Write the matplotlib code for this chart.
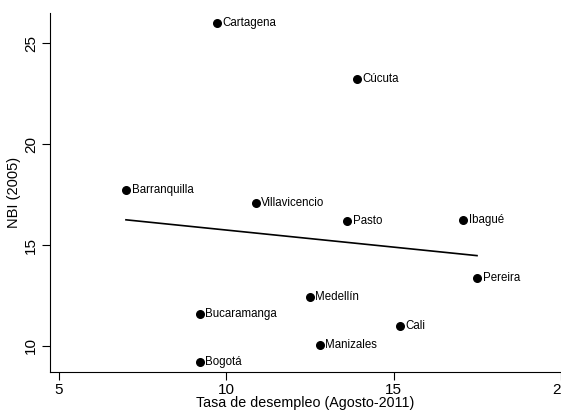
import matplotlib
matplotlib.use("Agg")
import matplotlib.pyplot as plt
import numpy as np

cities = ["Cartagena", "Cúcuta", "Barranquilla", "Villavicencio", "Pasto", "Ibagué",
          "Pereira", "Medellín", "Cali", "Manizales", "Bucaramanga", "Bogotá"]
desempleo = [9.71, 13.89, 7.00, 10.88, 13.61, 17.07, 17.49, 12.49, 15.18, 12.79, 9.21, 9.21]
nbi = [26.00, 23.22, 17.72, 17.09, 16.20, 16.24, 13.38, 12.41, 11.00, 10.05, 11.57, 9.22]
xticks = [5, 10, 15, 20]
yticks = [10, 15, 20, 25]

plt.rcParams['font.family'] = ['Liberation Sans', 'DejaVu Sans']

fig = plt.figure(figsize=(5.61, 4.13), dpi=100)
ax = fig.add_axes([50/561, 41/413, 1 - 50/561, (372-13)/413])

x = np.array(desempleo)
y = np.array(nbi)
ax.scatter(x, y, s=30, color='black', zorder=3)
for c, xi, yi in zip(cities, x, y):
    ax.annotate(c, (xi, yi), xytext=(4, 0), textcoords='offset points',
                va='center', ha='left', fontsize=8.3)

b, a = np.polyfit(x, y, 1)
xs = np.array([x.min(), x.max()])
ax.plot(xs, a + b * xs, color='black', lw=1.2)

ax.set_xlim(4.73, 20.0)
ax.set_ylim(8.71, 26.5)
ax.set_xticks(xticks)
ax.set_yticks(yticks)
ax.set_xticklabels([str(t) for t in xticks], fontsize=11)
ax.set_yticklabels([str(t) for t in yticks], fontsize=11, rotation=90, va='center')
ax.tick_params(direction='out', length=5.5, width=0.8, color='black')
ax.tick_params(axis='x', pad=2.5)
ax.tick_params(axis='y', pad=3)
for s in ['top', 'right']:
    ax.spines[s].set_visible(False)
for s in ['left', 'bottom']:
    ax.spines[s].set_linewidth(0.8)

ax.set_xlabel("Tasa de desempleo (Agosto-2011)", fontsize=10.3, va='top')
ax.xaxis.set_label_coords(0.5, -0.067)
ax.set_ylabel("NBI (2005)", fontsize=10.5, labelpad=2)

fig.savefig("out.png", dpi=100)
